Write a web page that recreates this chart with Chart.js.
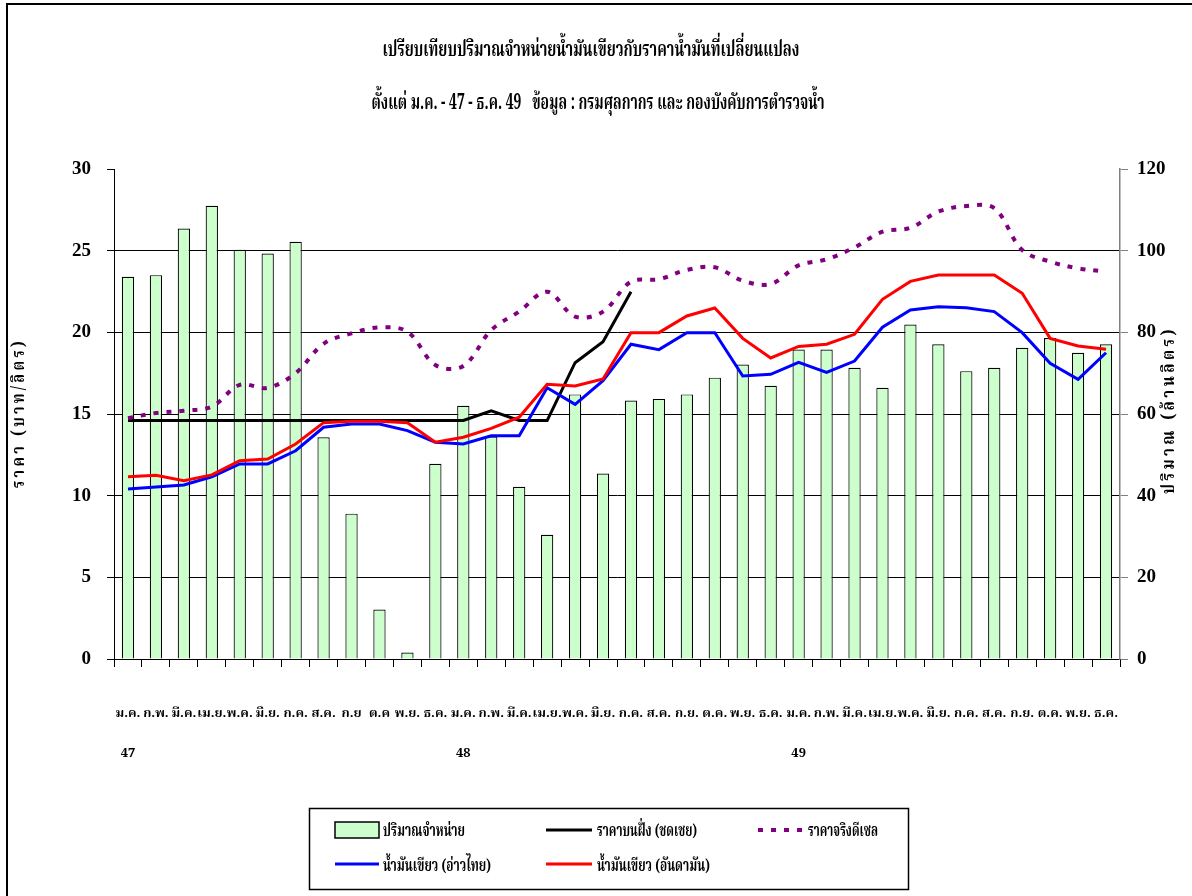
<!DOCTYPE html>
<html><head><meta charset="utf-8">
<script src="https://cdn.jsdelivr.net/npm/chart.js@4.4.1/dist/chart.umd.min.js"></script>
<style>html,body{margin:0;padding:0;background:#fff;overflow:hidden}canvas{display:block}</style>
</head><body>
<canvas id="c" width="1192" height="896"></canvas>
<script>
// ---------- data ----------
const monthLabels = ['ม.ค.','ก.พ.','มี.ค.','เม.ย.','พ.ค.','มิ.ย.','ก.ค.','ส.ค.','ก.ย','ต.ค','พ.ย.','ธ.ค.',
                     'ม.ค.','ก.พ.','มี.ค.','เม.ย.','พ.ค.','มิ.ย.','ก.ค.','ส.ค.','ก.ย.','ต.ค.','พ.ย.','ธ.ค.',
                     'ม.ค.','ก.พ.','มี.ค.','เม.ย.','พ.ค.','มิ.ย.','ก.ค.','ส.ค.','ก.ย.','ต.ค.','พ.ย.','ธ.ค.'];
const yearLabels = ['47','','','','','','','','','','','',
                    '48','','','','','','','','','','','',
                    '49','','','','','','','','','','',''];
// ปริมาณจำหน่าย (ล้านลิตร) - right axis
const salesVolume = [93.6,94.0,105.4,111.0,100.2,99.3,102.2,54.3,35.6,12.1,1.6,47.8,
                     62.0,54.5,42.2,30.4,64.8,45.4,63.3,63.7,64.8,68.9,72.1,66.9,
                     75.8,75.8,71.3,66.4,81.9,77.1,70.5,71.3,76.2,78.6,75.0,77.1];
// ราคาบนฝั่ง (ชดเชย)
const onshorePrice = [14.6,14.6,14.6,14.6,14.6,14.6,14.6,14.6,14.6,14.6,14.6,14.6,
                      14.6,15.2,14.6,14.6,18.14,19.43,22.49,null,null,null,null,null,
                      null,null,null,null,null,null,null,null,null,null,null,null];
// ราคาจริงดีเซล
const dieselPrice = [14.74,15.06,15.2,15.45,16.78,16.6,17.5,19.3,19.94,20.3,20.04,18.0,
                     17.94,20.14,21.27,22.49,20.96,21.27,23.1,23.25,23.82,23.98,23.16,22.96,
                     24.1,24.47,25.2,26.16,26.4,27.39,27.73,27.6,25.04,24.33,23.92,23.71];
// น้ำมันเขียว (อ่าวไทย)
const gulfPrice = [10.41,10.53,10.65,11.16,11.94,11.94,12.75,14.19,14.39,14.39,13.98,13.27,
                   13.16,13.67,13.67,16.61,15.59,17.04,19.27,18.94,19.98,19.98,17.33,17.43,
                   18.16,17.55,18.24,20.31,21.37,21.57,21.51,21.27,19.98,18.1,17.12,18.75];
// น้ำมันเขียว (อันดามัน)
const andamanPrice = [11.16,11.25,10.92,11.27,12.14,12.24,13.16,14.47,14.55,14.55,14.47,13.27,
                      13.58,14.12,14.8,16.82,16.71,17.14,19.98,19.98,21.0,21.49,19.63,18.43,
                      19.14,19.27,19.88,22.02,23.12,23.51,23.51,23.51,22.39,19.63,19.16,18.96];
const titleLines = ['เปรียบเทียบปริมาณจำหน่ายน้ำมันเขียวกับราคาน้ำมันที่เปลี่ยนแปลง',
                    'ตั้งแต่ ม.ค. - 47 - ธ.ค. 49   ข้อมูล : กรมศุลกากร และ กองบังคับการตำรวจน้ำ'];
const leftAxisTitle = 'ราคา (บาท/ลิตร)';
const rightAxisTitle = 'ปริมาณ (ล้านลิตร)';
const seriesNames = ['ปริมาณจำหน่าย','ราคาบนฝั่ง (ชดเชย)','ราคาจริงดีเซล','น้ำมันเขียว (อ่าวไทย)','น้ำมันเขียว (อันดามัน)'];

// ---------- styling ----------
const THAI = '"Noto Serif Thai","Noto Sans Thai","Liberation Serif",serif';
const NUM = '"Liberation Serif",serif';

const labels = monthLabels.map((m, i) => yearLabels[i] ? [m, yearLabels[i]] : m);

function fitText(ctx, text, x, y, targetW, align) {
  const w = ctx.measureText(text).width;
  const sx = targetW ? Math.min(1.2, targetW / w) : 1;
  ctx.save();
  ctx.translate(x, y);
  ctx.scale(sx, 1);
  ctx.textAlign = align || 'center';
  ctx.fillText(text, 0, 0);
  ctx.restore();
}

const decor = {
  id: 'decor',
  afterDraw(chart) {
    const ctx = chart.ctx;
    const ds = chart.data.datasets;
    ctx.save();
    // outer frame
    ctx.strokeStyle = '#000'; ctx.lineWidth = 2;
    ctx.beginPath(); ctx.moveTo(7, 1000); ctx.lineTo(7, 4); ctx.lineTo(1300, 4); ctx.stroke();
    // titles
    ctx.fillStyle = '#000'; ctx.textBaseline = 'middle';
    ctx.font = 'bold 22px ' + THAI;
    fitText(ctx, titleLines[0], 591, 52, 417);
    fitText(ctx, titleLines[1], 598, 105, 453);
    // axis titles
    ctx.font = 'bold 18px ' + THAI;
    ctx.letterSpacing = '4px';
    ctx.save(); ctx.translate(21, 413); ctx.rotate(-Math.PI / 2);
    fitText(ctx, leftAxisTitle, 0, 0, 150); ctx.restore();
    ctx.save(); ctx.translate(1171, 410); ctx.rotate(-Math.PI / 2);
    fitText(ctx, rightAxisTitle, 0, 0, 168); ctx.restore();
    ctx.letterSpacing = '0px';
    // legend
    ctx.lineWidth = 1.5; ctx.strokeStyle = '#000';
    ctx.strokeRect(309.5, 808.5, 599, 81);
    ctx.font = 'bold 17px ' + THAI;
    // bar item
    ctx.fillStyle = ds[0].backgroundColor; ctx.fillRect(335, 822, 44, 16);
    ctx.lineWidth = 1.5; ctx.strokeStyle = '#000'; ctx.strokeRect(335, 822, 44, 16);
    ctx.fillStyle = '#000';
    fitText(ctx, ds[0].label, 383, 833, 82, 'left');
    const lineItem = (d, x1, x2, y, tx, ty, tw) => {
      ctx.save();
      ctx.strokeStyle = d.borderColor; ctx.lineWidth = d.borderWidth;
      ctx.setLineDash(d.borderDash || []);
      ctx.beginPath(); ctx.moveTo(x1, y); ctx.lineTo(x2, y); ctx.stroke();
      ctx.restore();
      ctx.fillStyle = '#000';
      fitText(ctx, d.label, tx, ty, tw, 'left');
    };
    lineItem(ds[1], 546, 592, 830, 597, 833, 100);
    lineItem(ds[2], 758, 803, 830, 808, 833, 70);
    lineItem(ds[3], 335, 379, 864, 383, 868, 108);
    lineItem(ds[4], 546, 592, 864, 597, 868, 113);
    ctx.restore();
  }
};

new Chart(document.getElementById('c'), {
  data: {
    labels: labels,
    datasets: [
      { type: 'bar', label: seriesNames[0], data: salesVolume, yAxisID: 'y1',
        backgroundColor: '#CCFFCC', borderColor: '#000', borderWidth: 1.2,
        barPercentage: 0.44, categoryPercentage: 1, order: 10 },
      { type: 'line', label: seriesNames[1], data: onshorePrice, yAxisID: 'y',
        borderColor: '#000000', borderWidth: 3, pointRadius: 0, tension: 0, spanGaps: false, order: 4 },
      { type: 'line', label: seriesNames[2], data: dieselPrice, yAxisID: 'y',
        borderColor: '#800080', borderWidth: 4, borderDash: [5, 8], borderCapStyle: 'butt',
        pointRadius: 0, tension: 0.35, order: 3 },
      { type: 'line', label: seriesNames[3], data: gulfPrice, yAxisID: 'y',
        borderColor: '#0000FF', borderWidth: 3, pointRadius: 0, tension: 0, order: 2 },
      { type: 'line', label: seriesNames[4], data: andamanPrice, yAxisID: 'y',
        borderColor: '#FF0000', borderWidth: 3, pointRadius: 0, tension: 0, order: 1 }
    ]
  },
  options: {
    responsive: false, animation: false, devicePixelRatio: 1,
    layout: { padding: { top: 169, left: 0, right: 0, bottom: 0 } },
    plugins: { legend: { display: false }, title: { display: false }, tooltip: { enabled: false } },
    scales: {
      x: {
        offset: true,
        grid: { offset: true, drawOnChartArea: false, tickLength: 8, color: '#000', tickColor: '#000' },
        border: { color: '#000', width: 1 },
        ticks: { autoSkip: false, maxRotation: 0, minRotation: 0, padding: 28, color: '#000',
                 font: { family: THAI, size: 13, weight: 'bold', lineHeight: '40px' } },
        afterFit: s => { s.height = 237; }
      },
      y: {
        position: 'left', min: 0, max: 30,
        ticks: { stepSize: 5, padding: 16, color: '#000', font: { family: NUM, size: 19, weight: 'bold' } },
        grid: { tickLength: 7, color: c => (c.tick && c.tick.value === 30) ? 'rgba(0,0,0,0)' : '#000', tickColor: '#000', lineWidth: 1 },
        border: { color: '#000', width: 1 },
        afterFit: s => { s.width = 114; }
      },
      y1: {
        position: 'right', min: 0, max: 120,
        ticks: { stepSize: 20, padding: 9, color: '#000', font: { family: NUM, size: 19, weight: 'bold' } },
        grid: { drawOnChartArea: false, tickLength: 8, color: '#808080', tickColor: '#808080' },
        border: { color: '#808080', width: 1.5 },
        afterFit: s => { s.width = 72; }
      }
    }
  },
  plugins: [decor]
});
</script>
</body></html>
